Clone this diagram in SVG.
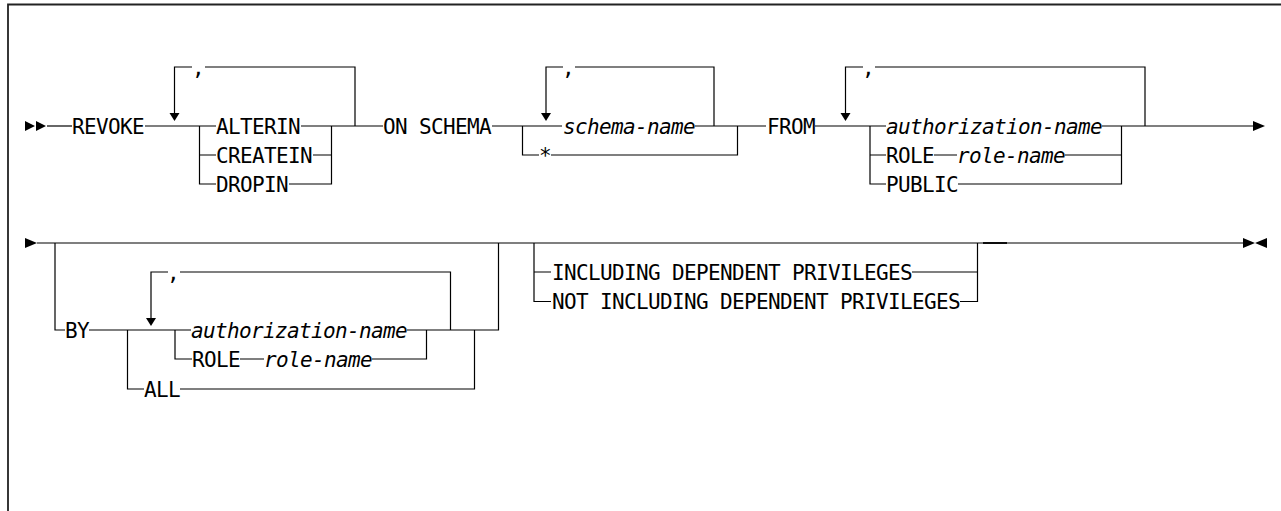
<svg xmlns="http://www.w3.org/2000/svg" width="1281" height="511" viewBox="0 0 1281 511">
<style>
text{font-family:"DejaVu Sans Mono","Liberation Mono",monospace;font-size:21px;letter-spacing:-0.64px;fill:#000}
.v{font-style:italic}
.ln{fill:none;stroke:#000;stroke-width:1.2}
.main2{fill:none;stroke:#555;stroke-width:1.6}
.frame{fill:none;stroke:#222;stroke-width:1.8}
.ah{fill:#000}
</style>
<defs>
<path id="down" d="M-5,-8 L5,-8 L0,0 Z"/>
<path id="right" d="M-12,-5 L0,0 L-12,5 Z"/>
</defs>
<rect width="1281" height="511" fill="#fff"/>
<path class="frame" d="M8,511 V4.5 H1281"/>
<g id="connectors">
<!-- row 1 -->
<path class="ln" d="M47,126 H72"/>
<path class="ln" d="M145,126 H216"/>
<path class="ln" d="M301,126 H383"/>
<path class="ln" d="M199.5,126 V184 H216 M199.5,155 H216"/>
<path class="ln" d="M313,155 H331.5 M289,184 H331.5 V126"/>
<path class="ln" d="M355,126 V67 H205 M192,67 H174.5 V113"/>
<use href="#down" x="174.5" y="121" class="ah"/>
<path class="ln" d="M492,126 H562"/>
<path class="ln" d="M695,126 H766"/>
<path class="ln" d="M522.5,126 V155 H539 M551,155 H737.5 V126"/>
<path class="ln" d="M714,126 V67 H575 M563,67 H546 V113"/>
<use href="#down" x="546" y="121" class="ah"/>
<path class="ln" d="M815,126 H886"/>
<path class="ln" d="M870,126 V184 H886 M870,155 H886"/>
<path class="ln" d="M1102,126 H1254"/>
<path class="ln" d="M934,155 H957 M1065,155 H1121.5 M958,184 H1121.5 V126"/>
<path class="ln" d="M1145,126 V67 H875 M863,67 H845.5 V113"/>
<use href="#down" x="845.5" y="121" class="ah"/>
<path class="ah" d="M25,121 L35,126 L25,131 Z M36,121 L46,126 L36,131 Z"/>
<use href="#right" x="1265" y="126" class="ah"/>
<!-- row 2 -->
<path class="ah" d="M25,238 L37,243 L25,248 Z"/>
<path class="main2" d="M37,243 H1243"/>
<path class="ln" d="M983,243 H1007" style="stroke-width:1.8"/>
<path class="ln" d="M55,243 V330 H65"/>
<path class="ln" d="M89,330 H191"/>
<path class="ln" d="M127.5,330 V389 H144 M180,389 H474.5 V330"/>
<path class="ln" d="M175,330 V359 H192 M240,359 H264 M372,359 H426.5 V330"/>
<path class="ln" d="M407,330 H498.5 V243"/>
<path class="ln" d="M450.5,330 V272 H180 M168,272 H151 V318"/>
<use href="#down" x="151" y="326" class="ah"/>
<path class="ln" d="M534,243 V301.5 H551 M534,272 H551 M912,272 H977.5 M960,301.5 H977.5 V243"/>
<path class="ah" d="M1243,238 L1255,243 L1243,248 Z M1267,238 L1255,243 L1267,248 Z"/>
</g>
<g id="n-revoke"><text x="72" y="133.5">REVOKE</text></g>
<g id="n-comma1"><text x="192" y="75">,</text></g>
<g id="n-alterin"><text x="216" y="133.5">ALTERIN</text></g>
<g id="n-createin"><text x="216" y="162.5">CREATEIN</text></g>
<g id="n-dropin"><text x="216" y="191.5">DROPIN</text></g>
<g id="n-onschema"><text x="383" y="133.5">ON SCHEMA</text></g>
<g id="n-comma2"><text x="562" y="75">,</text></g>
<g id="n-schemaname"><text class="v" x="563" y="133.5">schema-name</text></g>
<g id="n-star"><text x="539" y="162.5">*</text></g>
<g id="n-from"><text x="767" y="133.5">FROM</text></g>
<g id="n-comma3"><text x="862" y="75">,</text></g>
<g id="n-authname1"><text class="v" x="886" y="133.5">authorization-name</text></g>
<g id="n-role1"><text x="886" y="162.5">ROLE</text></g>
<g id="n-rolename1"><text class="v" x="957" y="162.5">role-name</text></g>
<g id="n-public"><text x="886" y="191.5">PUBLIC</text></g>
<g id="n-by"><text x="65" y="337.5">BY</text></g>
<g id="n-comma4"><text x="167" y="280">,</text></g>
<g id="n-authname2"><text class="v" x="191" y="337.5">authorization-name</text></g>
<g id="n-role2"><text x="192" y="366.5">ROLE</text></g>
<g id="n-rolename2"><text class="v" x="264" y="366.5">role-name</text></g>
<g id="n-all"><text x="144" y="396.5">ALL</text></g>
<g id="n-including"><text x="552" y="279.5">INCLUDING DEPENDENT PRIVILEGES</text></g>
<g id="n-notincluding"><text x="552" y="308.5">NOT INCLUDING DEPENDENT PRIVILEGES</text></g>
</svg>
